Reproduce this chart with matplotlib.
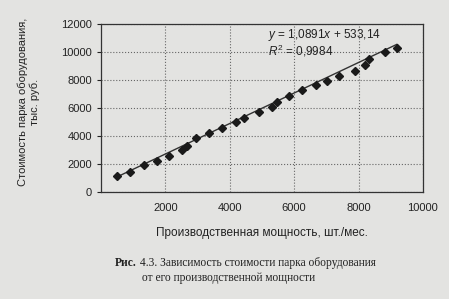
import matplotlib.pyplot as plt
import numpy as np

# производственная мощность, шт./мес. и стоимость парка, тыс. руб.
x_data = [490, 910, 1320, 1740, 2100, 2520, 2680, 2940, 3350, 3770,
          4190, 4450, 4920, 5300, 5470, 5830, 6250, 6670, 7030, 7400,
          7880, 8200, 8330, 8820, 9190]
y_data = [1150, 1450, 1950, 2200, 2600, 3000, 3250, 3850, 4200, 4600,
          5000, 5250, 5700, 6050, 6450, 6850, 7300, 7650, 7900, 8300,
          8650, 9100, 9500, 10000, 10300]

# линия тренда (из уравнения на графике)
slope = 1.0891
intercept = 533.14

plt.rcParams['font.family'] = ['Liberation Sans', 'DejaVu Sans']
plt.rcParams['mathtext.fontset'] = 'custom'
plt.rcParams['mathtext.rm'] = 'Liberation Sans'
plt.rcParams['mathtext.it'] = 'Liberation Sans:italic'

bg = '#e3e3e1'
ink = '#222222'
fig = plt.figure(figsize=(4.49, 2.99), dpi=100, facecolor=bg)
ax = fig.add_axes([0.225, 0.358, 0.717, 0.562])
ax.set_facecolor(bg)

xs = np.array([min(x_data), max(x_data)])
ax.plot(xs, slope * xs + intercept, color='#333333', lw=1.0, zorder=2)
ax.plot(x_data, y_data, 'D', color='#1a1a1a', ms=4, zorder=3)

ax.set_xlim(0, 10000)
ax.set_ylim(0, 12000)
ax.set_xticks([2000, 4000, 6000, 8000, 10000])
ax.set_yticks(np.arange(0, 12001, 2000))
ax.grid(True, ls=':', color='#666666', lw=0.8)
ax.tick_params(axis='x', length=0, pad=8, labelsize=8, colors=ink)
ax.tick_params(axis='y', length=3, labelsize=8, colors=ink)
for s in ax.spines.values():
    s.set_color('#333333')
    s.set_linewidth(0.9)

ax.set_xlabel('Производственная мощность, шт./мес.', fontsize=8.5, labelpad=10, color=ink)
ax.set_ylabel('Стоимость парка оборудования,\nтыс. руб.', fontsize=8, color=ink)
ax.yaxis.set_label_coords(-0.19, 0.535)

ax.text(0.52, 0.915, '$y$ = 1,0891$x$ + 533,14', transform=ax.transAxes, fontsize=8.5, color=ink)
ax.text(0.52, 0.815, '$R^2$ = 0,9984', transform=ax.transAxes, fontsize=8.5, color=ink)

# подпись к рисунку
t1 = fig.text(0.256, 0.11, 'Рис.', fontsize=8.3, family='Liberation Serif', weight='bold', color=ink)
ax.annotate(' 4.3. Зависимость стоимости парка оборудования', xy=(1, 0), xycoords=t1,
            va='bottom', fontsize=8.3, family='Liberation Serif', color=ink,
            annotation_clip=False)
fig.text(0.51, 0.06, 'от его производственной мощности', ha='center',
         fontsize=8.3, family='Liberation Serif', color=ink)

fig.savefig('out.png', dpi=100, facecolor=bg)
